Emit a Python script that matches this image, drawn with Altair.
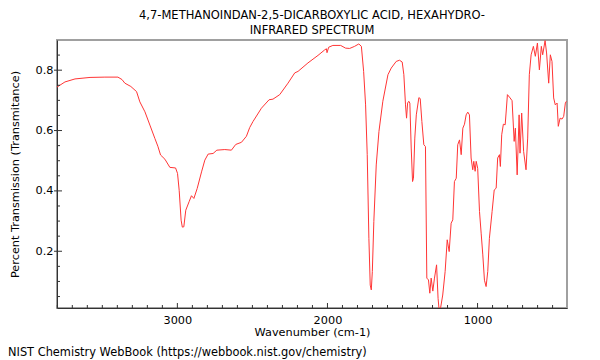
import altair as alt
import pandas as pd

# ---- data ----
wavenumber = [3802, 3749, 3682, 3582, 3483, 3396, 3369, 3350, 3310, 3272,
              3250, 3216, 3183, 3150, 3130, 3112, 3083, 3050, 3012, 2999,
              2988, 2975, 2967, 2957, 2944, 2922, 2906, 2890, 2868, 2839,
              2817, 2795, 2762, 2737, 2684, 2640, 2611, 2573, 2540, 2518,
              2496, 2440, 2389, 2363, 2318, 2263, 2218, 2196, 2130, 2063,
              2019, 2007, 2003, 1992, 1964, 1912, 1879, 1852, 1819, 1791,
              1774, 1759, 1746, 1735, 1724, 1715, 1708, 1701, 1691, 1675,
              1657, 1631, 1597, 1575, 1542, 1520, 1502, 1491, 1480, 1473,
              1466, 1458, 1451, 1442, 1433, 1427, 1418, 1408, 1391, 1382,
              1371, 1358, 1347, 1338, 1327, 1318, 1309, 1298, 1287, 1273,
              1263, 1257, 1247, 1232, 1216, 1202, 1189, 1176, 1165, 1154,
              1142, 1132, 1120, 1109, 1098, 1087, 1076, 1065, 1054, 1043,
              1032, 1025, 1016, 1009, 999, 987, 976, 965, 954, 943,
              932, 921, 903, 889, 876, 866, 854, 848, 839, 828,
              816, 810, 801, 783, 770, 756, 748, 736, 723, 717,
              706, 693, 677, 666, 655, 643, 628, 615, 601, 588,
              575, 566, 550, 540, 526, 515, 504, 493, 482, 470,
              462, 450, 437, 426, 415, 408]

transmittance = [0.744, 0.761, 0.771, 0.776, 0.777, 0.777, 0.769, 0.757, 0.746, 0.729,
                 0.695, 0.662, 0.618, 0.574, 0.548, 0.519, 0.505, 0.478, 0.476, 0.458,
                 0.402, 0.303, 0.280, 0.281, 0.336, 0.364, 0.384, 0.375, 0.408, 0.463,
                 0.502, 0.522, 0.524, 0.535, 0.537, 0.535, 0.554, 0.561, 0.581, 0.610,
                 0.630, 0.674, 0.702, 0.704, 0.719, 0.757, 0.791, 0.796, 0.824, 0.849,
                 0.867, 0.871, 0.858, 0.876, 0.882, 0.882, 0.873, 0.872, 0.879, 0.887,
                 0.879, 0.796, 0.685, 0.520, 0.243, 0.088, 0.072, 0.133, 0.299, 0.486,
                 0.597, 0.697, 0.785, 0.807, 0.829, 0.833, 0.827, 0.785, 0.685, 0.641,
                 0.691, 0.697, 0.691, 0.542, 0.431, 0.442, 0.575, 0.652, 0.709, 0.706,
                 0.630, 0.553, 0.547, 0.111, 0.105, 0.061, 0.111, 0.068, 0.111, 0.155,
                 0.044, 0.011, 0.010, 0.055, 0.133, 0.238, 0.199, 0.293, 0.304, 0.431,
                 0.442, 0.553, 0.569, 0.520, 0.608, 0.621, 0.652, 0.661, 0.652, 0.509,
                 0.470, 0.498, 0.465, 0.498, 0.475, 0.332, 0.260, 0.188, 0.104, 0.083,
                 0.133, 0.243, 0.332, 0.403, 0.409, 0.509, 0.520, 0.481, 0.586, 0.621,
                 0.619, 0.658, 0.719, 0.708, 0.699, 0.564, 0.608, 0.453, 0.652, 0.525,
                 0.658, 0.531, 0.470, 0.575, 0.785, 0.851, 0.879, 0.846, 0.890, 0.801,
                 0.879, 0.851, 0.898, 0.857, 0.757, 0.851, 0.829, 0.708, 0.685, 0.691,
                 0.614, 0.641, 0.638, 0.647, 0.691, 0.697]

x_labels = [1000, 2000, 3000]
x_minor = [500, 600, 700, 800, 900, 1100, 1200, 1300, 1400, 1500, 1600, 1700,
           1800, 1900, 2100, 2200, 2300, 2400, 2500, 2600, 2700, 2800, 2900,
           3100, 3200, 3300, 3400, 3500, 3600, 3700, 3800]
y_labels = [0.2, 0.4, 0.6, 0.8]
y_minor = [0.05, 0.1, 0.15, 0.25, 0.3, 0.35, 0.45, 0.5, 0.55, 0.65, 0.7, 0.75, 0.85]

title_lines = ["4,7-METHANOINDAN-2,5-DICARBOXYLIC ACID, HEXAHYDRO-", "INFRARED SPECTRUM"]
x_title = "Wavenumber (cm-1)"
y_title = "Percent Transmission (Transmitance)"
footer = "NIST Chemistry WebBook (https://webbook.nist.gov/chemistry)"

# ---- layout ----
W, H = 510, 268
FONT = "DejaVu Sans"
FS = 11.3
TICK = "#333333"

xscale = alt.Scale(domain=[404, 3802], reverse=True, nice=False, zero=False)
yscale = alt.Scale(domain=[0.012, 0.9], nice=False, zero=False)

x_axis = alt.Axis(values=x_labels, title=x_title, ticks=False, grid=False,
                  labelPadding=6, titlePadding=1, format="d")
y_axis = alt.Axis(values=y_labels, title=y_title, ticks=False, grid=False,
                  labelPadding=4, titlePadding=15, format=".1f")

spec = pd.DataFrame({"wn": wavenumber, "t": transmittance})

line = alt.Chart(spec).mark_line(color="#ff3535", strokeWidth=1, clip=True).encode(
    x=alt.X("wn:Q", scale=xscale, axis=x_axis),
    y=alt.Y("t:Q", scale=yscale, axis=y_axis),
)

xmin_df = pd.DataFrame({"v": x_minor})
xmaj_df = pd.DataFrame({"v": x_labels})
ymin_df = pd.DataFrame({"v": y_minor})
ymaj_df = pd.DataFrame({"v": y_labels})

xmin_ticks = alt.Chart(xmin_df).mark_rule(color=TICK, strokeWidth=1).encode(
    x=alt.X("v:Q", scale=xscale, axis=x_axis), y=alt.value(H), y2=alt.value(H - 3))
xmaj_ticks = alt.Chart(xmaj_df).mark_rule(color=TICK, strokeWidth=1).encode(
    x=alt.X("v:Q", scale=xscale, axis=x_axis), y=alt.value(H), y2=alt.value(H - 5))
ymin_ticks = alt.Chart(ymin_df).mark_rule(color=TICK, strokeWidth=1).encode(
    y=alt.Y("v:Q", scale=yscale, axis=y_axis), x=alt.value(0), x2=alt.value(3))
ymaj_ticks = alt.Chart(ymaj_df).mark_rule(color=TICK, strokeWidth=1).encode(
    y=alt.Y("v:Q", scale=yscale, axis=y_axis), x=alt.value(-3), x2=alt.value(5))

foot = alt.Chart(pd.DataFrame({"txt": [footer]})).mark_text(
    align="left", baseline="middle", font=FONT, fontSize=11.4, color="black"
).encode(x=alt.value(-49), y=alt.value(313), text="txt:N")

chart = alt.layer(line, xmin_ticks, xmaj_ticks, ymin_ticks, ymaj_ticks, foot).properties(
    width=W, height=H,
    title=alt.Title(title_lines, font=FONT, fontSize=11.5, fontWeight="normal",
                    color="black", anchor="middle", lineHeight=15, offset=4),
    autosize=alt.AutoSizeParams(type="none"),
    padding={"left": 49, "top": 32, "right": 25, "bottom": 52},
).configure_view(
    stroke="#a0a0a0", strokeWidth=2
).configure_axis(
    domainColor="#333333", domainWidth=1,
    labelFont=FONT, labelFontSize=FS, labelColor="black",
    titleFont=FONT, titleFontSize=FS, titleColor="black", titleFontWeight="normal",
)

chart.save("out.html", embed_options={"renderer": "svg", "actions": False})
